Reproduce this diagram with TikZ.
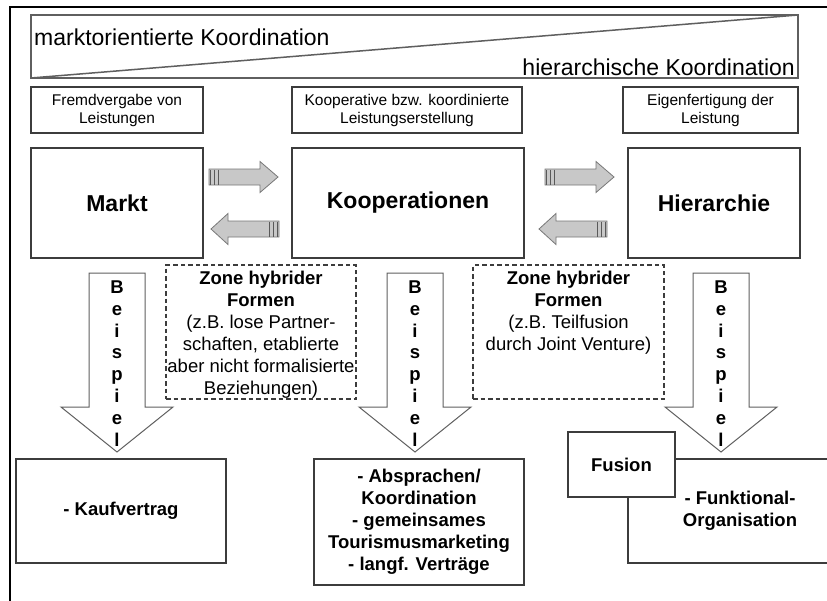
\documentclass[tikz,border=0pt]{standalone}
\usepackage{fontspec}
\setmainfont{Liberation Sans}
\usetikzlibrary{positioning, calc}
\definecolor{linegray}{RGB}{60,60,60}
\definecolor{bannergray}{RGB}{95,95,95}
\definecolor{arrowfill}{RGB}{200,200,200}
\definecolor{arrowline}{RGB}{120,120,120}
\tikzset{
  headbox/.style={draw=linegray, line width=1.4pt, fill=white, inner sep=0pt,
    align=center, font=\fontsize{15.5}{18}\selectfont},
  formbox/.style={draw=linegray, line width=1.6pt, fill=white, inner sep=0pt,
    align=center, font=\fontsize{23}{27}\selectfont\bfseries},
  examplebox/.style={draw=linegray, line width=1.6pt, fill=white, inner sep=0pt,
    align=center, font=\fontsize{18.5}{22}\selectfont\bfseries},
  zonebox/.style={draw=linegray, line width=1.2pt, dash pattern=on 4.5pt off 3pt},
  zonetext/.style={inner sep=0pt, align=center, font=\fontsize{18.5}{22}\selectfont},
  bsparrow/.style={draw=arrowline!80!black, fill=white, line width=1pt},
  bsptext/.style={inner sep=0pt, align=center, font=\fontsize{18.5}{21.8}\selectfont\bfseries},
  sidearrow/.style={draw=arrowline, fill=arrowfill, line width=0.8pt},
  stripe/.style={draw=linegray!85, line width=1.5pt},
}

\begin{document}
\begin{tikzpicture}[x=1pt, y=-1pt]
  \useasboundingbox (0,0) rectangle (827,600);
  \clip (0,0) rectangle (827,600);
  \fill[white] (0,0) rectangle (827,600);

  % outer frame
  \draw[line width=2.6pt] (10,620) -- (10,7) -- (840,7);

  % banner with diagonal
  \draw[bannergray, line width=1.5pt] (31,15) rectangle (798,78);
  \draw[bannergray, line width=1.5pt] (31,78) -- (798,15);
  \node[anchor=west, inner sep=0pt, font=\fontsize{23}{27}\selectfont]
    (markttxt) at (34,37) {marktorientierte Koordination};
  \node[anchor=east, inner sep=0pt, font=\fontsize{23}{27}\selectfont]
    (hiertxt) at (795,67) {hierarchische Koordination};

  % header boxes
  \node[headbox, minimum width=172pt, minimum height=46pt] (fremd) at (117,110)
    {Fremdvergabe von\\Leistungen};
  \node[headbox, minimum width=230pt, minimum height=46pt] (koophead) at (407,110)
    {Kooperative bzw. koordinierte\\Leistungserstellung};
  \node[headbox, minimum width=175pt, minimum height=46pt] (eigen) at (710.5,110)
    {Eigenfertigung der\\Leistung};

  % forms
  \node[formbox, minimum width=172pt, minimum height=110pt] (markt) at (117,203) {Markt};
  \node[formbox, minimum width=232pt, minimum height=110pt] (koop) at (408,203) {Kooperationen};
  \node[formbox, minimum width=172pt, minimum height=110pt] (hier) at (714,203) {Hierarchie};

  % side arrows
  \foreach \xa in {209,545} {
    \filldraw[sidearrow] (\xa,169) -- (\xa+51,169) -- (\xa+51,161.5) -- (\xa+69,177)
      -- (\xa+51,192.5) -- (\xa+51,185) -- (\xa,185) -- cycle;
    \foreach \s in {1.5,5.5,9.5}
      \draw[stripe] (\xa+\s,169.5) -- (\xa+\s,184.5);
  }
  \foreach \xa in {279,607} {
    \filldraw[sidearrow] (\xa,221) -- (\xa-51,221) -- (\xa-51,213.5) -- (\xa-68,229)
      -- (\xa-51,244.5) -- (\xa-51,237) -- (\xa,237) -- cycle;
    \foreach \s in {1.5,5.5,9.5}
      \draw[stripe] (\xa-\s,221.5) -- (\xa-\s,236.5);
  }

  % zones of hybrid forms
  \node[zonebox, minimum width=190pt, minimum height=134pt] (zone1) at (261,332) {};
  \node[zonetext, anchor=north] at ([yshift=-6pt]zone1.north)
    {\textbf{Zone hybrider}\\\textbf{Formen}\\(z.B. lose Partner-\\schaften, etablierte\\aber nicht formalisierte\\Beziehungen)};
  \node[zonebox, minimum width=191pt, minimum height=134pt] (zone2) at (568.5,332) {};
  \node[zonetext, anchor=north] at ([yshift=-6pt]zone2.north)
    {\textbf{Zone hybrider}\\\textbf{Formen}\\(z.B. Teilfusion\\durch Joint Venture)};

  % example arrows
  \foreach \cx/\nm in {117/bsp1, 415/bsp2, 721/bsp3} {
    \filldraw[bsparrow] (\cx-28,273) -- (\cx+28,273) -- (\cx+28,407) -- (\cx+56,407)
      -- (\cx,452) -- (\cx-56,407) -- (\cx-28,407) -- cycle;
    \node[bsptext] (\nm) at (\cx,363.5) {B\\e\\i\\s\\p\\i\\e\\l};
  }

  % examples
  \node[examplebox, minimum width=210pt, minimum height=104pt] (kauf) at (121,511)
    {- Kaufvertrag};
  \node[examplebox, minimum width=210pt, minimum height=126pt] (absprache) at (419,522)
    {- Absprachen/\\Koordination\\- gemeinsames\\Tourismusmarketing\\- langf. Verträge};
  \node[examplebox, minimum width=224pt, minimum height=104pt] (funktional) at (740,511)
    {- Funktional-\\Organisation};
  \node[examplebox, minimum width=107pt, minimum height=65pt] (fusion) at (621.5,464.5)
    {Fusion};
\end{tikzpicture}
\end{document}
